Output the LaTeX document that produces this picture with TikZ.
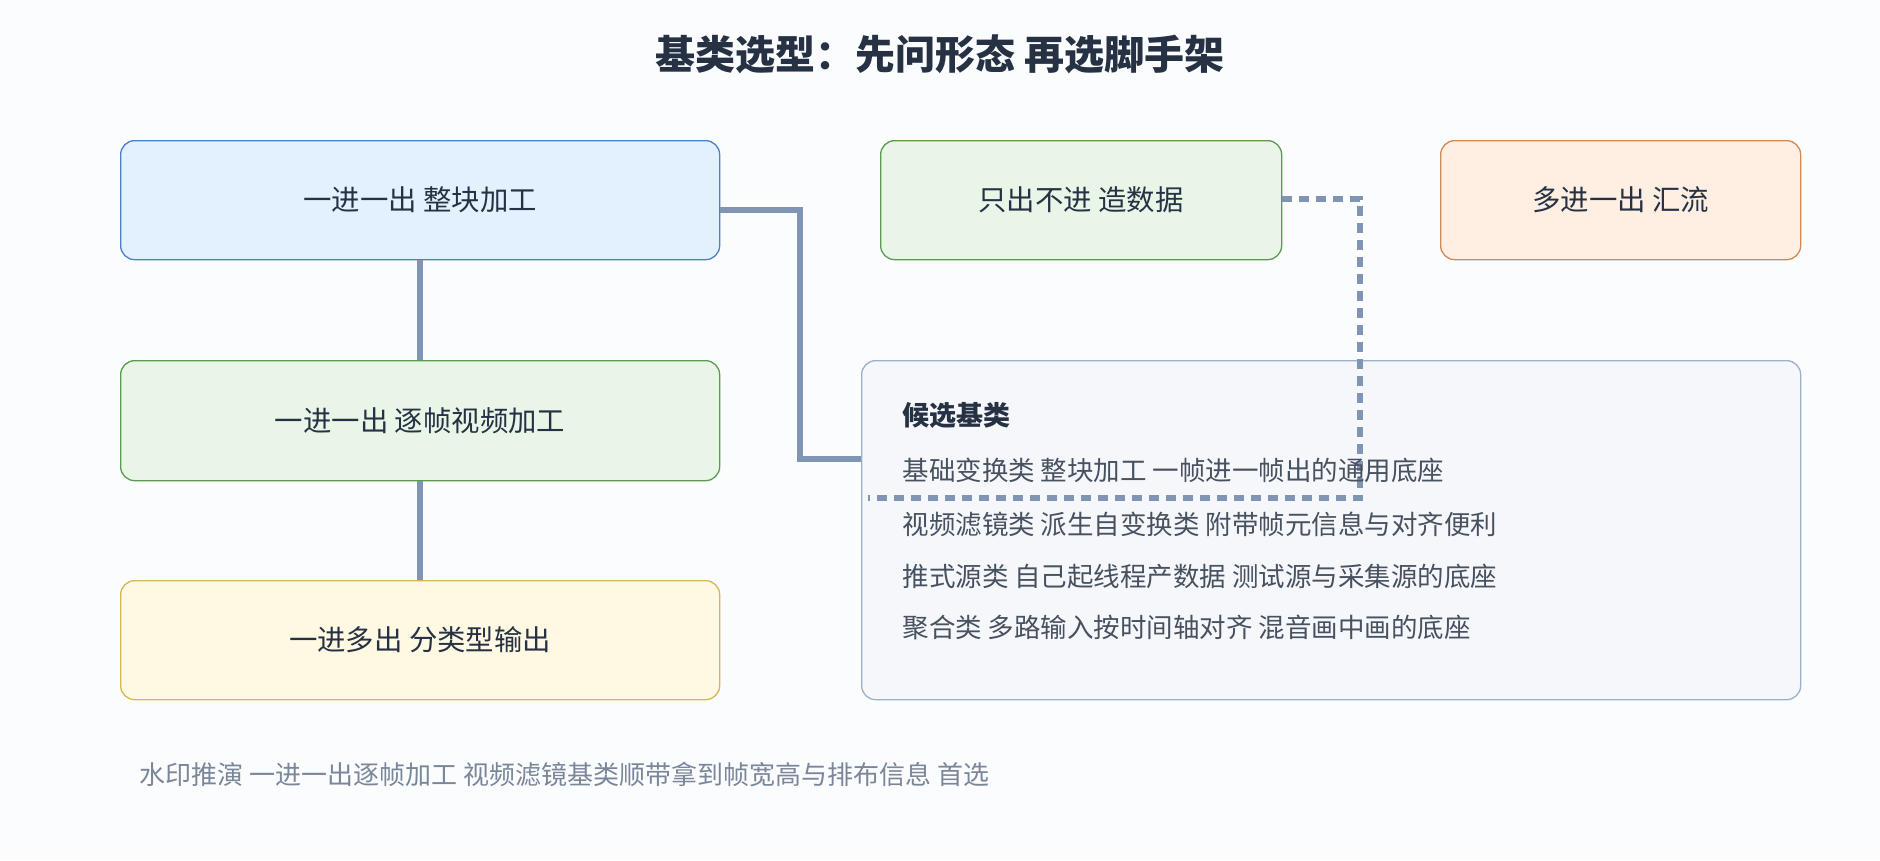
\documentclass[tikz,border=0pt]{standalone}
\usepackage{fontspec}
\setmainfont{Noto Sans CJK SC}
\begin{document}
\definecolor{bg}{HTML}{FAFCFE}
\definecolor{txt}{HTML}{263244}
\definecolor{conn}{HTML}{7F95B3}
\definecolor{bluef}{HTML}{E3F0FE}\definecolor{blued}{HTML}{4A80C8}
\definecolor{grnf}{HTML}{E9F5E7}\definecolor{grnd}{HTML}{5C9A50}
\definecolor{orf}{HTML}{FFEEE2}\definecolor{ord}{HTML}{D08A55}
\definecolor{yelf}{HTML}{FFF8E3}\definecolor{yeld}{HTML}{D4B855}
\definecolor{cf}{HTML}{F5F7FA}\definecolor{cd}{HTML}{9AB0CC}
\definecolor{foot}{HTML}{7A8699}
\begin{tikzpicture}[x=1pt,y=-1pt,
  box/.style={draw,rounded corners=14pt,line width=1.3pt,anchor=north west,font=\fontsize{28.4}{32}\selectfont,text=txt},
  ln/.style={anchor=west,font=\fontsize{26.5}{30}\selectfont,text=txt!85},
  cn/.style={draw=conn,line width=5.5pt}]
\fill[bg] (0,0) rectangle (1880,860);
\useasboundingbox (0,0) rectangle (1880,860);
\node[font=\bfseries\fontsize{40}{46}\selectfont,text=txt] (title) at (940,54) {基类选型：先问形态 再选脚手架};
\node[box,fill=bluef,draw=blued,minimum width=599pt,minimum height=119pt] (a) at (120,140) {一进一出 整块加工};
\node[box,fill=grnf,draw=grnd,minimum width=401pt,minimum height=119pt] (b) at (880,140) {只出不进 造数据};
\node[box,fill=orf,draw=ord,minimum width=360pt,minimum height=119pt] (c) at (1440,140) {多进一出 汇流};
\node[box,fill=grnf,draw=grnd,minimum width=599pt,minimum height=120pt] (d) at (120,360) {一进一出 逐帧视频加工};
\node[box,fill=yelf,draw=yeld,minimum width=599pt,minimum height=119pt] (e) at (120,580) {一进多出 分类型输出};
\node[box,fill=cf,draw=cd,minimum width=939pt,minimum height=339pt] (f) at (861,360) {};
\draw[cn] (a.south) -- (d.north);
\draw[cn] (d.south) -- (e.north);
\coordinate (fa) at (861,459);
\coordinate (fb) at (868,498);
\draw[cn] (a.east|-0,210) -- (800,210) -- (800,459) -- (fa);
\draw[cn,dash pattern=on 10pt off 7pt] (b.east|-0,199) -- (1360,199) -- (1360,498) -- (fb);
\node[anchor=west,font=\bfseries\fontsize{27}{30}\selectfont,text=txt] (h) at (899,415) {候选基类};
\node[ln] (l1) at (899,470) {基础变换类 整块加工 一帧进一帧出的通用底座};
\node[ln] (l2) at (899,524) {视频滤镜类 派生自变换类 附带帧元信息与对齐便利};
\node[ln] (l3) at (899,576) {推式源类 自己起线程产数据 测试源与采集源的底座};
\node[ln] (l4) at (899,627) {聚合类 多路输入按时间轴对齐 混音画中画的底座};
\node[anchor=west,font=\fontsize{26}{30}\selectfont,text=foot] (ft) at (136,775) {水印推演 一进一出逐帧加工 视频滤镜基类顺带拿到帧宽高与排布信息 首选};
\end{tikzpicture}
\end{document}
